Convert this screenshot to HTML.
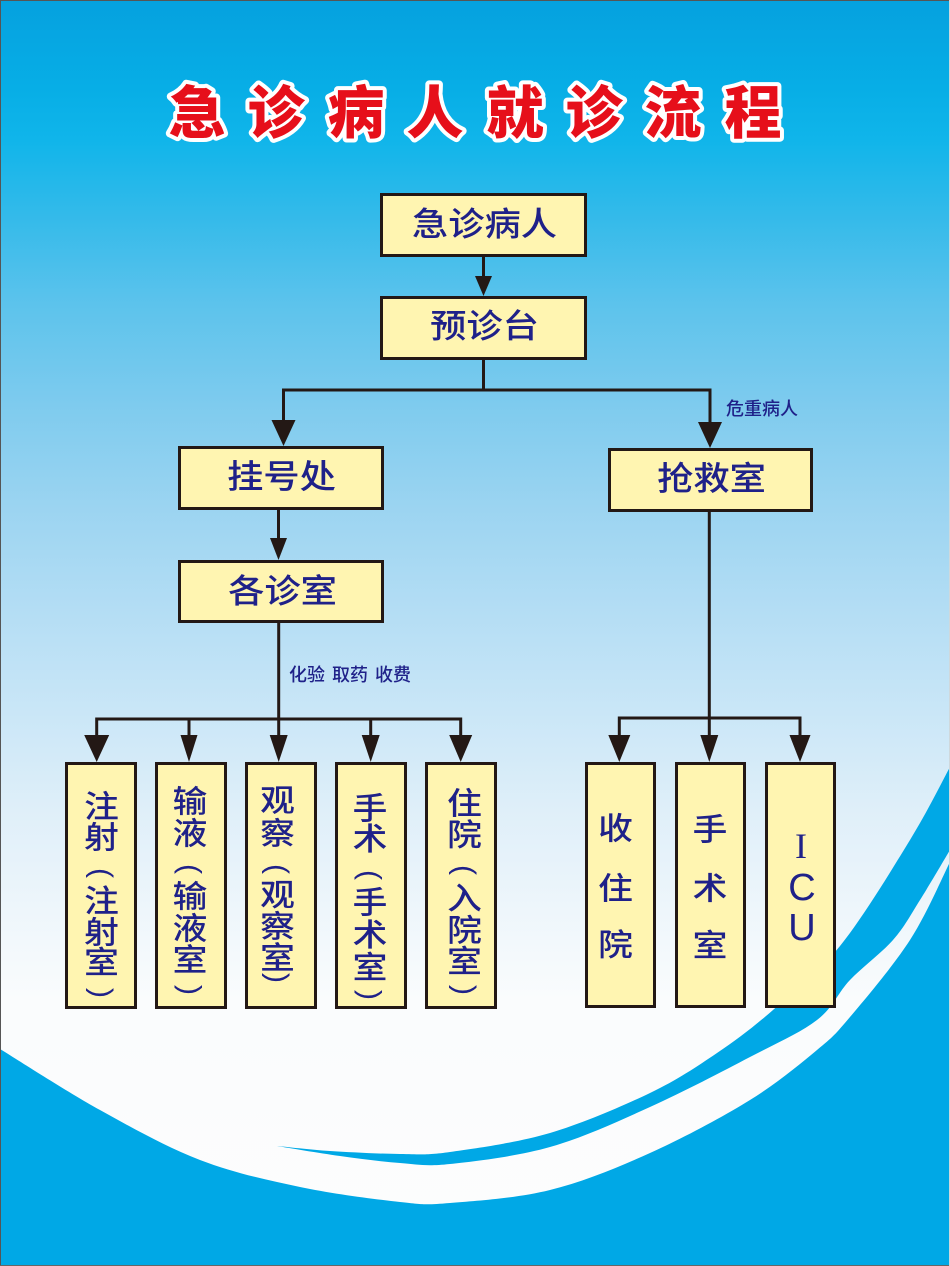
<!DOCTYPE html>
<html>
<head>
<meta charset="utf-8">
<style>
html,body{margin:0;padding:0;width:950px;height:1266px;overflow:hidden;background:#fff;}
svg{display:block;}
.t{font-family:"Liberation Sans","Noto Sans CJK SC",sans-serif;fill:#1f2189;font-weight:500;}
</style>
</head>
<body>
<svg width="950" height="1266" viewBox="0 0 950 1266" xmlns="http://www.w3.org/2000/svg">
<defs>
<linearGradient id="bg" x1="0" y1="0" x2="0" y2="1266" gradientUnits="userSpaceOnUse">
<stop offset="0" stop-color="#05a1df"/>
<stop offset="0.07" stop-color="#07aee6"/>
<stop offset="0.11" stop-color="#10b5ea"/>
<stop offset="0.17" stop-color="#33baea"/>
<stop offset="0.24" stop-color="#5cc3ec"/>
<stop offset="0.32" stop-color="#7ecbee"/>
<stop offset="0.40" stop-color="#9bd4f1"/>
<stop offset="0.48" stop-color="#b3ddf4"/>
<stop offset="0.56" stop-color="#c9e6f7"/>
<stop offset="0.64" stop-color="#dfeff9"/>
<stop offset="0.72" stop-color="#eef6fb"/>
<stop offset="0.79" stop-color="#fafcfd"/>
<stop offset="1" stop-color="#fdfdfd"/>
</linearGradient>
</defs>

<rect x="0" y="0" width="950" height="1266" fill="url(#bg)"/>

<!-- bottom swoosh -->
<path id="sw1" fill="#00a8e6" d="M0,1049 L50,1081 L100,1110 L150,1137 L200,1160 L250,1176 L300,1187 L350,1196 L400,1202 L450,1203 L500,1199 L550,1190 L600,1174 L650,1153 L700,1128 L750,1100 L785,1076 L817,1050 L850,1017 L880,980 L910,940 L930,905 L950,862 L950,1266 L0,1266 Z"/>
<path id="sw2" fill="#00a8e6" d="M277,1146 L330,1151 L400,1154 L450,1152 L500,1145 L550,1133 L600,1115 L650,1093 L717,1053 L773,1010 L810,980 L840,946 L870,905 L890,875 L910,840 L930,805 L950,767 L950,850 L935,877 L920,900 L893,940 L870,962 L850,980 L817,1020 L785,1040 L750,1057 L700,1083 L650,1107 L600,1129 L550,1147 L500,1158 L450,1164 L400,1163 L340,1156 Z"/>

<!-- frame lines -->
<line x1="0.5" y1="0" x2="0.5" y2="1266" stroke="#555" stroke-width="1"/>
<line x1="0" y1="0.5" x2="950" y2="0.5" stroke="#555" stroke-width="1"/>
<line x1="0" y1="1265.5" x2="950" y2="1265.5" stroke="#666" stroke-width="1"/>
<line x1="949.5" y1="0" x2="949.5" y2="1266" stroke="#cfd8dc" stroke-width="1"/>

<!-- title -->
<g font-family="'Liberation Sans','Noto Sans CJK SC',sans-serif" font-size="57" font-weight="900" fill="#e60f1a" stroke="#ffffff" stroke-width="8" stroke-linejoin="round" paint-order="stroke" text-anchor="middle">
<text x="197" y="133">急</text>
<text x="276" y="133">诊</text>
<text x="356" y="133">病</text>
<text x="435" y="133">人</text>
<text x="515" y="133">就</text>
<text x="594" y="133">诊</text>
<text x="673" y="133">流</text>
<text x="753" y="133">程</text>
</g>

<!-- connectors -->
<g stroke="#231815" stroke-width="3" fill="none" stroke-linecap="square">
<line x1="483.5" y1="257" x2="483.5" y2="280"/>
<line x1="483.5" y1="360" x2="483.5" y2="390"/>
<polyline points="283.5,425 283.5,390 710,390 710,425"/>
<line x1="278.5" y1="510" x2="278.5" y2="540"/>
<line x1="278.7" y1="623" x2="278.7" y2="740"/>
<polyline points="96.7,740 96.7,719 460.7,719 460.7,740"/>
<line x1="189" y1="719" x2="189" y2="740"/>
<line x1="370.7" y1="719" x2="370.7" y2="740"/>
<line x1="709.3" y1="512" x2="709.3" y2="740"/>
<polyline points="619.3,740 619.3,718 800,718 800,740"/>
</g>
<g fill="#231815">
<polygon points="475,276 492,276 483.5,296"/>
<polygon points="271.5,420 295.5,420 283.5,446"/>
<polygon points="698,422 722,422 710,448"/>
<polygon points="270,538 287,538 278.5,560"/>
<polygon points="84.2,735 109.2,735 96.7,762"/>
<polygon points="180.5,735 197.5,735 189,762"/>
<polygon points="269.7,735 287.7,735 278.7,762"/>
<polygon points="361.7,735 379.7,735 370.7,762"/>
<polygon points="449.2,735 472.2,735 460.7,762"/>
<polygon points="608.3,735 630.3,735 619.3,762"/>
<polygon points="700.3,735 718.3,735 709.3,762"/>
<polygon points="789.5,735 810.5,735 800,762"/>
</g>

<!-- boxes -->
<g fill="#fff5b1" stroke="#231815" stroke-width="3">
<rect x="381.5" y="194.5" width="204" height="61"/>
<rect x="381.5" y="297.5" width="204" height="61"/>
<rect x="179.5" y="447.5" width="203" height="61"/>
<rect x="609.5" y="449.5" width="202" height="61"/>
<rect x="179.5" y="561.5" width="203" height="60"/>
<rect x="66.5" y="763.5" width="69" height="244"/>
<rect x="156.5" y="763.5" width="69" height="244"/>
<rect x="246.5" y="763.5" width="69" height="244"/>
<rect x="336.5" y="763.5" width="69" height="244"/>
<rect x="426.5" y="763.5" width="69" height="244"/>
<rect x="586.5" y="763.5" width="68" height="243"/>
<rect x="676.5" y="763.5" width="68" height="243"/>
<rect x="766.5" y="763.5" width="68" height="243"/>
</g>

<!-- box labels (horizontal) -->
<g class="t" font-size="33" text-anchor="middle" dominant-baseline="central">
<g transform="translate(484.5,225) scale(1.1,1)"><text x="0" y="0">急诊病人</text></g>
<g transform="translate(484.5,327) scale(1.1,1)"><text x="0" y="0">预诊台</text></g>
<g transform="translate(281.5,477.5) scale(1.1,1)"><text x="0" y="0">挂号处</text></g>
<g transform="translate(711.5,479.5) scale(1.1,1)"><text x="0" y="0">抢救室</text></g>
<g transform="translate(282.5,592) scale(1.1,1)"><text x="0" y="0">各诊室</text></g>
</g>

<!-- small labels -->
<g class="t" font-size="18" dominant-baseline="central">
<text x="726" y="409">危重病人</text>
<text x="289" y="675">化验</text>
<text x="332" y="675">取药</text>
<text x="375" y="675">收费</text>
</g>

<!-- vertical columns -->
<g class="t" font-size="31" text-anchor="middle" dominant-baseline="central">
<g transform="translate(101.5,0) scale(1.12,1)">
<text x="0" y="806.5">注</text><text x="0" y="837.5">射</text>
<text x="0" y="901">注</text><text x="0" y="932.5">射</text><text x="0" y="962.5">室</text>
</g>
<g transform="translate(190,0) scale(1.12,1)">
<text x="0" y="801.5">输</text><text x="0" y="833.5">液</text>
<text x="0" y="896.5">输</text><text x="0" y="928.5">液</text><text x="0" y="960">室</text>
</g>
<g transform="translate(277.5,0) scale(1.12,1)">
<text x="0" y="800.5">观</text><text x="0" y="833.5">察</text>
<text x="0" y="895">观</text><text x="0" y="926.5">察</text><text x="0" y="958">室</text>
</g>
<g transform="translate(370,0) scale(1.12,1)">
<text x="0" y="808.5">手</text><text x="0" y="839">术</text>
<text x="0" y="902.5">手</text><text x="0" y="935">术</text><text x="0" y="967.5">室</text>
</g>
<g transform="translate(464.5,0) scale(1.12,1)">
<text x="0" y="803.5">住</text><text x="0" y="835">院</text>
<text x="0" y="898.5">入</text><text x="0" y="930.5">院</text><text x="0" y="961.5">室</text>
</g>
<g transform="translate(615.5,0) scale(1.12,1)">
<text x="0" y="828.5">收</text><text x="0" y="888.5">住</text><text x="0" y="945">院</text>
</g>
<g transform="translate(710,0) scale(1.12,1)">
<text x="0" y="829.5">手</text><text x="0" y="888.5">术</text><text x="0" y="945.5">室</text>
</g>
</g>

<!-- rotated parentheses -->
<g font-family="'Liberation Sans',sans-serif" font-size="30" fill="#1f2189" text-anchor="middle" dominant-baseline="central">
<text transform="translate(101.5,873) rotate(90)">(</text>
<text transform="translate(101.5,993) rotate(90)">)</text>
<text transform="translate(190,869) rotate(90)">(</text>
<text transform="translate(190,990) rotate(90)">)</text>
<text transform="translate(277.5,869) rotate(90)">(</text>
<text transform="translate(277.5,978) rotate(90)">)</text>
<text transform="translate(370,875) rotate(90)">(</text>
<text transform="translate(370,995) rotate(90)">)</text>
<text transform="translate(464.5,870) rotate(90)">(</text>
<text transform="translate(464.5,990) rotate(90)">)</text>
</g>

<!-- ICU -->
<text x="801" y="858" font-family="'Liberation Serif',serif" font-size="36" fill="#1f2189" text-anchor="middle">I</text>
<text x="802" y="900" font-family="'Liberation Sans',sans-serif" font-size="38" fill="#1f2189" text-anchor="middle">C</text>
<text x="802" y="940" font-family="'Liberation Sans',sans-serif" font-size="38" fill="#1f2189" text-anchor="middle">U</text>
</svg>
<script>
(function(){
function cr(pts){
  var d='M'+pts[0][0]+','+pts[0][1];
  for(var i=0;i<pts.length-1;i++){
    var p0=pts[i-1]||pts[i],p1=pts[i],p2=pts[i+1],p3=pts[i+2]||pts[i+1];
    var c1x=p1[0]+(p2[0]-p0[0])/6,c1y=p1[1]+(p2[1]-p0[1])/6;
    var c2x=p2[0]-(p3[0]-p1[0])/6,c2y=p2[1]-(p3[1]-p1[1])/6;
    d+=' C'+c1x.toFixed(1)+','+c1y.toFixed(1)+' '+c2x.toFixed(1)+','+c2y.toFixed(1)+' '+p2[0]+','+p2[1];
  }
  return d;
}
try{
var O=[[0,1049],[100,1110],[200,1160],[300,1187],[400,1202],[450,1203],[550,1190],[650,1153],[750,1100],[817,1050],[850,1017],[910,940],[950,862]];
document.getElementById('sw1').setAttribute('d',cr(O)+' L950,1266 L0,1266 Z');
var U=[[277,1146],[330,1151],[400,1154],[450,1152],[550,1133],[650,1093],[717,1053],[773,1010],[840,946],[910,840],[950,767]];
var L=[[950,850],[920,900],[893,940],[850,980],[817,1020],[750,1057],[650,1107],[550,1147],[450,1164],[400,1163],[340,1156],[277,1146]];
var d2=cr(U)+' L950,850 '+cr(L).replace(/^M[^ ]+/,'')+' Z';
document.getElementById('sw2').setAttribute('d',d2);
}catch(e){}
})();
</script>
</body>
</html>
